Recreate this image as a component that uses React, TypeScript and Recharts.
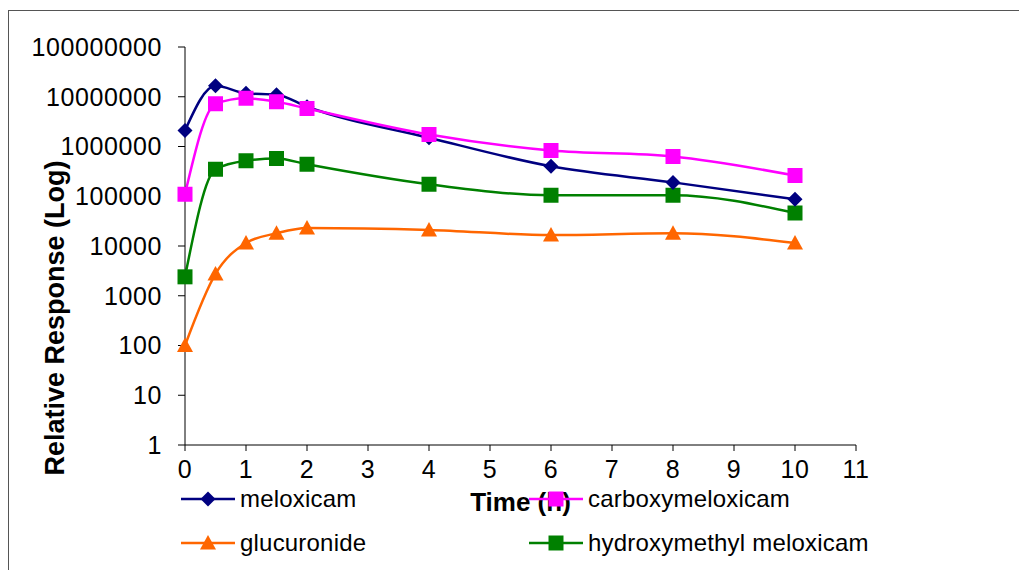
import { LineChart, Line, XAxis, YAxis } from "recharts";

// sampling times (h)
const times = [0, 0.5, 1, 1.5, 2, 4, 6, 8, 10];

// relative response
const meloxicam = [2100000, 16600000, 11700000, 11000000, 6300000, 1500000, 400000, 190000, 87000];
const carboxymeloxicam = [110000, 7200000, 9300000, 7900000, 5800000, 1740000, 830000, 630000, 260000];
const glucuronide = [100, 2750, 11500, 18000, 23000, 21000, 16600, 18000, 11500];
const hydroxymethyl = [2400, 350000, 520000, 575000, 440000, 174000, 105000, 105000, 46000];

const xTicks = [0, 1, 2, 3, 4, 5, 6, 7, 8, 9, 10, 11];
const yTicks = [1, 10, 100, 1000, 10000, 100000, 1000000, 10000000, 100000000];

const FONT = "'Liberation Sans', Arial, sans-serif";

const COLORS = {
  meloxicam: "#000080",
  carboxymeloxicam: "#FF00FF",
  glucuronide: "#FF6600",
  hydroxymethyl: "#008000",
};

type Shape = "diamond" | "square" | "triangle";

function markerPath(shape: Shape, cx: number, cy: number) {
  if (shape === "diamond") {
    const r = 7.5;
    return `M${cx},${cy - r}L${cx + r},${cy}L${cx},${cy + r}L${cx - r},${cy}Z`;
  }
  if (shape === "square") {
    const r = 7.5;
    return `M${cx - r},${cy - r}H${cx + r}V${cy + r}H${cx - r}Z`;
  }
  const r = 8;
  return `M${cx},${cy - r}L${cx + r},${cy + 6.5}L${cx - r},${cy + 6.5}Z`;
}

const makeDot = (shape: Shape, color: string) => (props: any) => {
  const { cx, cy, index } = props;
  if (cx == null || cy == null) return <g key={`d-${index}`} />;
  return <path key={`d-${index}`} d={markerPath(shape, cx, cy)} fill={color} stroke="none" />;
};

const rows = times.map((t, i) => ({
  t,
  meloxicam: meloxicam[i],
  carboxymeloxicam: carboxymeloxicam[i],
  glucuronide: glucuronide[i],
  hydroxymethyl: hydroxymethyl[i],
}));

function LegendItem({
  left,
  top,
  label,
  color,
  shape,
}: {
  left: number;
  top: number;
  label: string;
  color: string;
  shape: Shape;
}) {
  return (
    <div
      style={{
        position: "absolute",
        left,
        top: top - 14,
        height: 28,
        display: "flex",
        alignItems: "center",
        fontFamily: FONT,
        fontSize: 24,
        letterSpacing: 0.2,
        color: "#000",
        whiteSpace: "nowrap",
      }}
    >
      <svg width={54} height={28} style={{ marginRight: 5 }}>
        <line x1={0} y1={14} x2={54} y2={14} stroke={color} strokeWidth={2.5} />
        <path d={markerPath(shape, 27, 14)} fill={color} />
      </svg>
      <span>{label}</span>
    </div>
  );
}

export default function App() {
  const tick = { fill: "#000", fontSize: 25, fontFamily: FONT, letterSpacing: 0.6 };
  const titleStyle = { fontFamily: FONT, fontSize: 26, fontWeight: "bold", fill: "#000" };
  return (
    <div style={{ position: "absolute", left: 0, top: 0, width: 1019, height: 570, background: "#fff" }}>
      <div
        style={{
          position: "absolute",
          left: 8,
          top: 10,
          width: 1011,
          height: 560,
          borderLeft: "1.5px solid #555",
          borderTop: "1.5px solid #555",
        }}
      />
      <LineChart
        width={1019}
        height={570}
        data={rows}
        margin={{ top: 47, right: 163, bottom: 85, left: 0 }}
        style={{ position: "absolute", left: 0, top: 0 }}
      >
        <XAxis
          dataKey="t"
          type="number"
          domain={[0, 11]}
          ticks={xTicks}
          height={40}
          stroke="#000"
          tickSize={6}
          tickMargin={9}
          tick={tick}
          label={{ value: "Time (h)", position: "bottom", offset: 8, style: titleStyle }}
        />
        <YAxis
          scale="log"
          domain={[1, 100000000]}
          ticks={yTicks}
          allowDataOverflow
          width={185}
          stroke="#000"
          tickSize={7}
          tickMargin={16}
          tick={tick}
          tickFormatter={(v: number) => String(v)}
          label={{
            content: () => (
              <text
                x={64}
                y={318}
                transform="rotate(-90 64 318)"
                textAnchor="middle"
                fontFamily={FONT}
                fontSize={27}
                fontWeight="bold"
                fill="#000"
              >
                Relative Response (Log)
              </text>
            ),
          }}
        />
        <Line
          type="monotone"
          dataKey="glucuronide"
          stroke={COLORS.glucuronide}
          strokeWidth={2.5}
          dot={makeDot("triangle", COLORS.glucuronide)}
          isAnimationActive={false}
        />
        <Line
          type="monotone"
          dataKey="hydroxymethyl"
          stroke={COLORS.hydroxymethyl}
          strokeWidth={2.5}
          dot={makeDot("square", COLORS.hydroxymethyl)}
          isAnimationActive={false}
        />
        <Line
          type="monotone"
          dataKey="meloxicam"
          stroke={COLORS.meloxicam}
          strokeWidth={2.5}
          dot={makeDot("diamond", COLORS.meloxicam)}
          isAnimationActive={false}
        />
        <Line
          type="monotone"
          dataKey="carboxymeloxicam"
          stroke={COLORS.carboxymeloxicam}
          strokeWidth={2.5}
          dot={makeDot("square", COLORS.carboxymeloxicam)}
          isAnimationActive={false}
        />
      </LineChart>
      <LegendItem left={181} top={499} label="meloxicam" color={COLORS.meloxicam} shape="diamond" />
      <LegendItem left={529} top={499} label="carboxymeloxicam" color={COLORS.carboxymeloxicam} shape="square" />
      <LegendItem left={181} top={543} label="glucuronide" color={COLORS.glucuronide} shape="triangle" />
      <LegendItem left={529} top={543} label="hydroxymethyl meloxicam" color={COLORS.hydroxymethyl} shape="square" />
    </div>
  );
}
